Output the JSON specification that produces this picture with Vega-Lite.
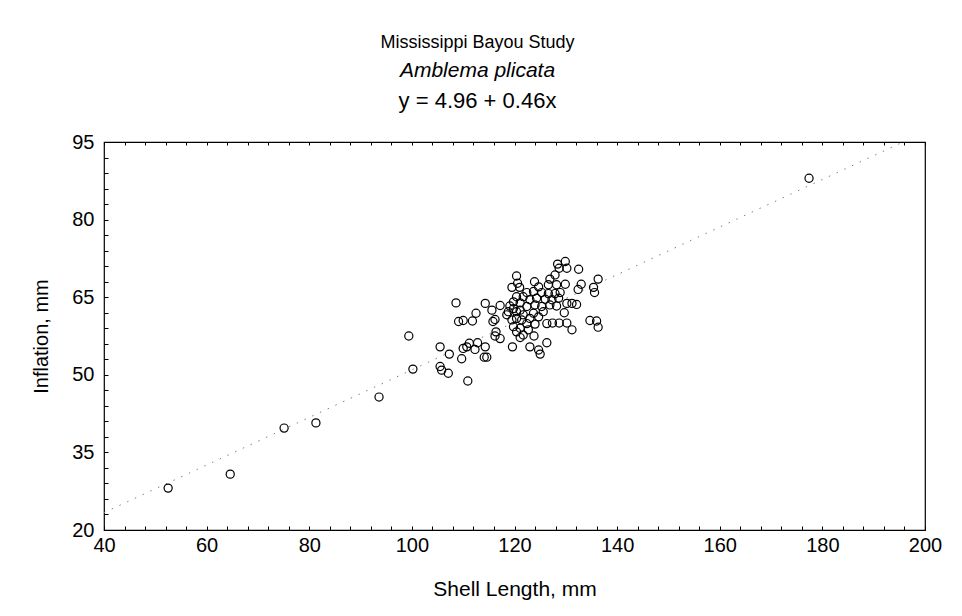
{
  "$schema": "https://vega.github.io/schema/vega-lite/v6.json",
  "autosize": {"type": "none"},
  "width": 821,
  "height": 388,
  "padding": {"left": 104, "top": 142, "right": 37, "bottom": 86},
  "background": "white",
  "config": {
    "font": "Liberation Sans",
    "view": {"stroke": "black", "strokeWidth": 1.2},
    "axis": {"labelFont": "Liberation Sans", "titleFont": "Liberation Sans", "labelColor": "black", "titleColor": "black", "labelFontSize": 20, "titleFontSize": 21, "titleFontWeight": "normal", "grid": false, "domain": false, "tickColor": "black", "tickSize": -4, "tickWidth": 1, "labelOverlap": false, "labelFlush": false}
  },
  "title": {
    "text": "Mississippi Bayou Study",
    "subtitle": "Amblema plicata",
    "fontSize": 18,
    "fontWeight": "normal",
    "color": "black",
    "subtitleFontSize": 21,
    "subtitleFontStyle": "italic",
    "subtitleColor": "black",
    "subtitlePadding": 8,
    "anchor": "middle",
    "dx": -37,
    "offset": 9
  },
  "datasets": {
    "pts": [
      {"len": 52.5, "inf": 28.1}, {"len": 64.6, "inf": 30.8}, {"len": 75.1, "inf": 39.7}, {"len": 81.3, "inf": 40.7},
      {"len": 93.6, "inf": 45.7}, {"len": 99.4, "inf": 57.5}, {"len": 100.2, "inf": 51.1}, {"len": 177.4, "inf": 88.0},
      {"len": 128.4, "inf": 71.4}, {"len": 129.9, "inf": 71.9}, {"len": 128.7, "inf": 70.6}, {"len": 130.2, "inf": 70.6},
      {"len": 132.5, "inf": 70.4}, {"len": 120.4, "inf": 69.1}, {"len": 120.6, "inf": 67.7}, {"len": 123.9, "inf": 68.0},
      {"len": 127.9, "inf": 69.3}, {"len": 126.9, "inf": 68.5}, {"len": 126.6, "inf": 67.4}, {"len": 128.2, "inf": 67.4},
      {"len": 129.9, "inf": 67.5}, {"len": 133.0, "inf": 67.5}, {"len": 132.4, "inf": 66.5}, {"len": 136.3, "inf": 68.5},
      {"len": 135.4, "inf": 66.9}, {"len": 135.6, "inf": 65.9}, {"len": 119.5, "inf": 66.9}, {"len": 121.0, "inf": 66.9},
      {"len": 124.7, "inf": 67.0}, {"len": 123.7, "inf": 66.1}, {"len": 122.4, "inf": 65.9}, {"len": 125.3, "inf": 65.9},
      {"len": 126.6, "inf": 65.7}, {"len": 127.9, "inf": 65.7}, {"len": 128.9, "inf": 65.9}, {"len": 120.4, "inf": 65.1},
      {"len": 121.7, "inf": 65.1}, {"len": 119.8, "inf": 64.1}, {"len": 121.1, "inf": 63.9}, {"len": 123.0, "inf": 64.5},
      {"len": 124.3, "inf": 64.8}, {"len": 126.0, "inf": 64.6}, {"len": 127.3, "inf": 64.5}, {"len": 128.6, "inf": 64.8},
      {"len": 130.2, "inf": 63.8}, {"len": 131.2, "inf": 63.8}, {"len": 132.1, "inf": 63.6}, {"len": 108.6, "inf": 63.9},
      {"len": 114.3, "inf": 63.8}, {"len": 117.2, "inf": 63.4}, {"len": 119.1, "inf": 63.3}, {"len": 122.4, "inf": 63.2},
      {"len": 124.0, "inf": 63.5}, {"len": 125.3, "inf": 63.2}, {"len": 126.9, "inf": 63.5}, {"len": 128.2, "inf": 63.3},
      {"len": 129.7, "inf": 62.0}, {"len": 115.6, "inf": 62.5}, {"len": 112.5, "inf": 61.9}, {"len": 118.8, "inf": 62.2},
      {"len": 120.4, "inf": 62.2}, {"len": 121.7, "inf": 61.6}, {"len": 123.7, "inf": 61.9}, {"len": 120.4, "inf": 60.9},
      {"len": 119.5, "inf": 60.6}, {"len": 121.4, "inf": 60.6}, {"len": 122.4, "inf": 59.9}, {"len": 124.0, "inf": 59.8},
      {"len": 116.2, "inf": 60.7}, {"len": 115.8, "inf": 60.3}, {"len": 111.8, "inf": 60.4}, {"len": 110.0, "inf": 60.5},
      {"len": 109.1, "inf": 60.3}, {"len": 126.3, "inf": 59.9}, {"len": 127.4, "inf": 60.0}, {"len": 128.7, "inf": 60.0},
      {"len": 130.2, "inf": 60.0}, {"len": 131.2, "inf": 58.7}, {"len": 134.7, "inf": 60.5}, {"len": 136.0, "inf": 60.4},
      {"len": 136.3, "inf": 59.2}, {"len": 119.8, "inf": 59.3}, {"len": 121.1, "inf": 59.0}, {"len": 120.4, "inf": 58.3},
      {"len": 121.7, "inf": 57.7}, {"len": 122.7, "inf": 58.7}, {"len": 123.8, "inf": 57.5}, {"len": 116.4, "inf": 58.3},
      {"len": 117.2, "inf": 57.0}, {"len": 116.2, "inf": 57.5}, {"len": 121.1, "inf": 57.2}, {"len": 105.5, "inf": 55.4},
      {"len": 107.3, "inf": 54.0}, {"len": 109.7, "inf": 53.1}, {"len": 110.0, "inf": 55.1}, {"len": 111.2, "inf": 56.1},
      {"len": 112.3, "inf": 54.9}, {"len": 112.8, "inf": 56.2}, {"len": 114.3, "inf": 55.4}, {"len": 114.6, "inf": 53.4},
      {"len": 114.1, "inf": 53.4}, {"len": 119.6, "inf": 55.4}, {"len": 123.0, "inf": 55.4}, {"len": 124.7, "inf": 54.8},
      {"len": 125.0, "inf": 54.0}, {"len": 126.3, "inf": 56.2}, {"len": 110.7, "inf": 55.4}, {"len": 105.5, "inf": 51.6},
      {"len": 105.8, "inf": 50.9}, {"len": 107.1, "inf": 50.3}, {"len": 110.9, "inf": 48.8}, {"len": 118.5, "inf": 61.6},
      {"len": 119.8, "inf": 62.8}, {"len": 123.0, "inf": 60.9}, {"len": 124.7, "inf": 61.2}, {"len": 125.6, "inf": 62.2},
      {"len": 121.1, "inf": 62.5}
    ],
    "fit": [
      {"len": 40, "inf": 23.36},
      {"len": 195.74, "inf": 95}
    ]
  },
  "layer": [
    {
      "data": {"name": "fit"},
      "mark": {"type": "line", "color": "#808080", "strokeWidth": 1, "strokeDash": [1.5, 7], "clip": true},
      "encoding": {
        "x": {"field": "len", "type": "quantitative", "scale": {"domain": [40, 200], "nice": false, "zero": false},
              "axis": {"orient": "top", "title": "y = 4.96 + 0.46x", "titleFontSize": 22, "titleX": 373, "labels": false, "ticks": true, "tickSize": -3,
                       "values": [40, 44, 48, 52, 56, 60, 64, 68, 72, 76, 80, 84, 88, 92, 96, 100, 104, 108, 112, 116, 120, 124, 128, 132, 136, 140, 144, 148, 152, 156, 160, 164, 168, 172, 176, 180, 184, 188, 192, 196, 200],
                       "titlePadding": 29}},
        "y": {"field": "inf", "type": "quantitative", "scale": {"domain": [20, 95], "nice": false, "zero": false},
              "axis": {"orient": "right", "labels": false, "ticks": false, "domain": false, "title": null}}
      }
    },
    {
      "data": {"name": "pts"},
      "mark": {"type": "point", "shape": "circle", "filled": false, "stroke": "black", "strokeWidth": 1.2, "size": 66, "opacity": 1},
      "encoding": {
        "x": {"field": "len", "type": "quantitative", "scale": {"domain": [40, 200], "nice": false, "zero": false},
              "axis": {"orient": "bottom", "title": "Shell Length, mm",
                       "values": [40, 44, 48, 52, 56, 60, 64, 68, 72, 76, 80, 84, 88, 92, 96, 100, 104, 108, 112, 116, 120, 124, 128, 132, 136, 140, 144, 148, 152, 156, 160, 164, 168, 172, 176, 180, 184, 188, 192, 196, 200],
                       "labelExpr": "datum.value % 20 === 0 ? datum.label : ''",
                       "labelPadding": 9, "titlePadding": 23}},
        "y": {"field": "inf", "type": "quantitative", "scale": {"domain": [20, 95], "nice": false, "zero": false},
              "axis": {"orient": "left", "title": "Inflation, mm", "titleFontSize": 20,
                       "values": [20, 23, 26, 29, 32, 35, 38, 41, 44, 47, 50, 53, 56, 59, 62, 65, 68, 71, 74, 77, 80, 83, 86, 89, 92, 95],
                       "labelExpr": "(datum.value - 20) % 15 === 0 ? datum.label : ''",
                       "labelPadding": 14, "titlePadding": 20}}
      }
    }
  ],
  "resolve": {"axis": {"x": "independent", "y": "independent"}}
}
